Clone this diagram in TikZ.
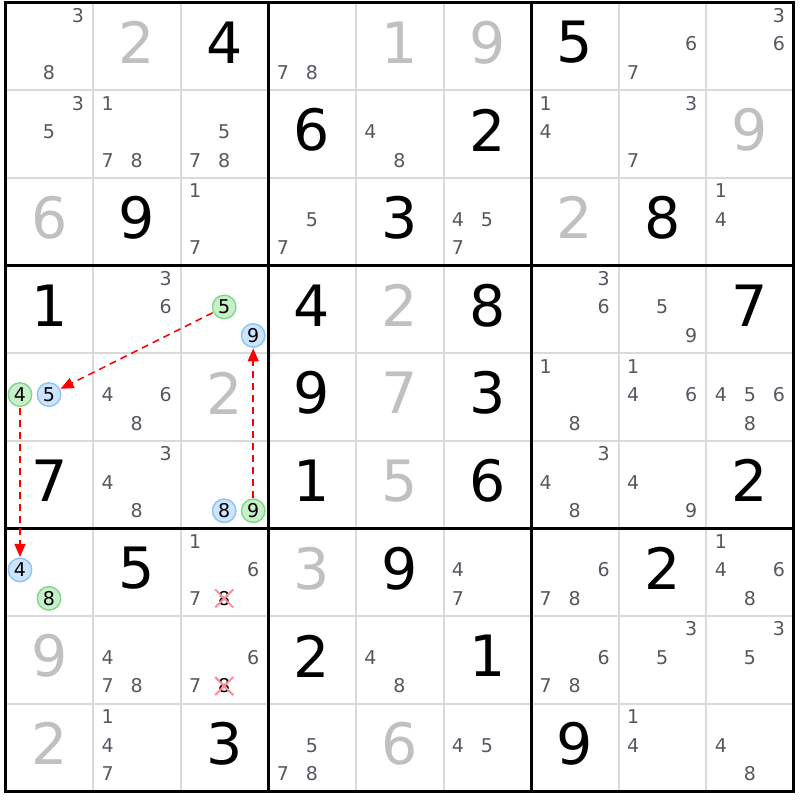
\documentclass[tikz,border=0pt]{standalone}
\usepackage{fontspec}
\setmainfont{DejaVu Sans}
\usetikzlibrary{arrows.meta,shapes.misc}
\definecolor{candc}{RGB}{86,88,96}
\definecolor{givc}{RGB}{192,192,192}
\definecolor{thinc}{RGB}{218,218,218}
\definecolor{gfill}{RGB}{200,240,200}
\definecolor{gdraw}{RGB}{128,214,140}
\definecolor{bfill}{RGB}{204,228,255}
\definecolor{bdraw}{RGB}{140,196,240}
\definecolor{xc}{RGB}{255,140,150}
\tikzset{
  cand/.style={inner sep=0pt,text=candc,font=\fontsize{19}{22}\selectfont},
  bigdig/.style={inner sep=0pt,font=\fontsize{57}{60}\selectfont},
  givenst/.style={bigdig,text=givc},
  solvst/.style={bigdig,text=black},
  gcirc/.style={circle,inner sep=0pt,minimum size=23.5pt,fill=gfill,draw=gdraw,line width=1.4pt,text=black,font=\fontsize{19}{22}\selectfont},
  bcirc/.style={circle,inner sep=0pt,minimum size=23.5pt,fill=bfill,draw=bdraw,line width=1.4pt,text=black,font=\fontsize{19}{22}\selectfont},
  xcand/.style={cross out,draw=xc,line width=2pt,inner sep=0pt,minimum size=16pt,text=black,font=\fontsize{19}{22}\selectfont},
  link/.style={red,line width=1.5pt,dash pattern=on 7pt off 5pt,-{Triangle[length=13pt,width=11pt]},shorten >=0.5pt,shorten <=0.5pt},
  thinline/.style={thinc,line width=2pt},
  thickline/.style={black,line width=3pt}
}
\newcommand\cands[3]{%
  \foreach \d in {#3}{%
    \pgfmathsetmacro\cx{5.5+87.6*#2+14.5+29*mod(\d-1,3)}%
    \pgfmathsetmacro\cy{2.5+87.65*#1+13+28.5*floor((\d-1)/3)}%
    \node[cand] (n#1#2\d) at (\cx,\cy) {\d};}}
\newcommand\spot[5]{% row col digit style name
    \pgfmathsetmacro\cx{5.5+87.6*#2+14.5+29*mod(#3-1,3)}%
    \pgfmathsetmacro\cy{2.5+87.65*#1+13+28.5*floor((#3-1)/3)}%
    \node[#4] (#5) at (\cx,\cy) {#3};}
\newcommand\givn[3]{\node[givenst] (g#1#2) at ({5.5+87.6*#2+43.8},{2.5+87.65*#1+40}) {#3};}
\newcommand\solv[3]{\node[solvst] (s#1#2) at ({5.5+87.6*#2+43.8},{2.5+87.65*#1+40}) {#3};}
\begin{document}
\begin{tikzpicture}[x=1pt,y=-1pt]
\useasboundingbox (0,0) rectangle (800,800);
\fill[white] (0,0) rectangle (800,800);
% grid
\foreach \i in {1,2,4,5,7,8}{
  \draw[thinline] ({5.5+87.6*\i},2.5) -- ({5.5+87.6*\i},791.35);
  \draw[thinline] (5.5,{2.5+87.65*\i}) -- (793.9,{2.5+87.65*\i});
}
\foreach \i in {0,3,6,9}{
  \draw[thickline] ({5.5+87.6*\i},1) -- ({5.5+87.6*\i},792.85);
  \draw[thickline] (4,{2.5+87.65*\i}) -- (795.4,{2.5+87.65*\i});
}
% row 0
\cands{0}{0}{3,8} \givn{0}{1}{2} \solv{0}{2}{4} \cands{0}{3}{7,8} \givn{0}{4}{1}
\givn{0}{5}{9} \solv{0}{6}{5} \cands{0}{7}{6,7} \cands{0}{8}{3,6}
% row 1
\cands{1}{0}{3,5} \cands{1}{1}{1,7,8} \cands{1}{2}{5,7,8} \solv{1}{3}{6} \cands{1}{4}{4,8}
\solv{1}{5}{2} \cands{1}{6}{1,4} \cands{1}{7}{3,7} \givn{1}{8}{9}
% row 2
\givn{2}{0}{6} \solv{2}{1}{9} \cands{2}{2}{1,7} \cands{2}{3}{5,7} \solv{2}{4}{3}
\cands{2}{5}{4,5,7} \givn{2}{6}{2} \solv{2}{7}{8} \cands{2}{8}{1,4}
% row 3
\solv{3}{0}{1} \cands{3}{1}{3,6} \spot{3}{2}{5}{gcirc}{ga} \spot{3}{2}{9}{bcirc}{bb}
\solv{3}{3}{4} \givn{3}{4}{2} \solv{3}{5}{8} \cands{3}{6}{3,6} \cands{3}{7}{5,9} \solv{3}{8}{7}
% row 4
\spot{4}{0}{4}{gcirc}{gc} \spot{4}{0}{5}{bcirc}{ba} \cands{4}{1}{4,6,8} \givn{4}{2}{2}
\solv{4}{3}{9} \givn{4}{4}{7} \solv{4}{5}{3} \cands{4}{6}{1,8} \cands{4}{7}{1,4,6} \cands{4}{8}{4,5,6,8}
% row 5
\solv{5}{0}{7} \cands{5}{1}{3,4,8} \spot{5}{2}{8}{bcirc}{bd} \spot{5}{2}{9}{gcirc}{gb}
\solv{5}{3}{1} \givn{5}{4}{5} \solv{5}{5}{6} \cands{5}{6}{3,4,8} \cands{5}{7}{4,9} \solv{5}{8}{2}
% row 6
\spot{6}{0}{4}{bcirc}{bc} \spot{6}{0}{8}{gcirc}{gd} \solv{6}{1}{5} \cands{6}{2}{1,6,7}
\spot{6}{2}{8}{xcand}{xa} \givn{6}{3}{3} \solv{6}{4}{9} \cands{6}{5}{4,7} \cands{6}{6}{6,7,8}
\solv{6}{7}{2} \cands{6}{8}{1,4,6,8}
% row 7
\givn{7}{0}{9} \cands{7}{1}{4,7,8} \cands{7}{2}{6,7} \spot{7}{2}{8}{xcand}{xb} \solv{7}{3}{2}
\cands{7}{4}{4,8} \solv{7}{5}{1} \cands{7}{6}{6,7,8} \cands{7}{7}{3,5} \cands{7}{8}{3,5}
% row 8
\givn{8}{0}{2} \cands{8}{1}{1,4,7} \solv{8}{2}{3} \cands{8}{3}{5,7,8} \givn{8}{4}{6}
\cands{8}{5}{4,5} \solv{8}{6}{9} \cands{8}{7}{1,4} \cands{8}{8}{4,8}
% links
\draw[link] (ga) -- (ba);
\draw[link] (gb) -- (bb);
\draw[link] (gc) -- (bc);
\end{tikzpicture}
\end{document}
